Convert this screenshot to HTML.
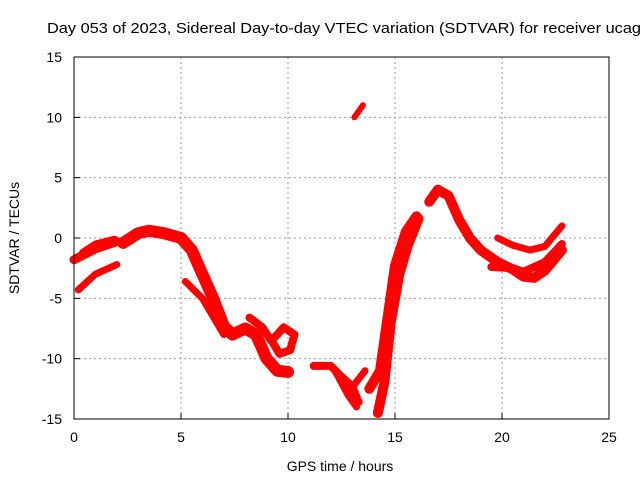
<!DOCTYPE html>
<html><head><meta charset="utf-8"><style>
body{margin:0;background:#fff;}
svg text{font-family:"Liberation Sans",sans-serif;font-size:14px;fill:#000;}
</style></head><body>
<svg id="chart" width="640" height="480">
<text x="47" y="33" textLength="594" lengthAdjust="spacingAndGlyphs" style="font-size:15px">Day 053 of 2023, Sidereal Day-to-day VTEC variation (SDTVAR) for receiver ucag</text>
<text x="340" y="471" text-anchor="middle">GPS time / hours</text>
<text transform="translate(19,238) rotate(-90)" text-anchor="middle">SDTVAR / TECUs</text>
<g id="grid"></g><g id="marks"></g><g id="axes"></g>
</svg>
<script>
const xTicks=[0,5,10,15,20,25];
const yTicks=[-15,-10,-5,0,5,10,15];
const trackA=[[0,-1.8],[1,-0.9],[2,-0.3]];
const trackA2=[[2.3,-0.4],[3,0.4],[3.5,0.6],[4.2,0.4],[5,0],[5.5,-1],[6,-3],[6.5,-5],[7,-7.3],[7.4,-8],[8,-7.5],[8.5,-8],[9,-10],[9.5,-11],[10,-11.1]];
const trackB=[[0.2,-4.3],[1,-3],[2,-2.2]];
const trackC=[[0.4,-1.2],[1,-0.5],[1.9,-0.1]];
const trackD=[[5.2,-3.6],[6,-5],[6.5,-6.5],[7,-8]];
const trackE=[[8.2,-6.6],[8.8,-7.4],[9.2,-8.5],[9.5,-8],[9.8,-7.4],[10.3,-8],[10.1,-9.3],[9.6,-9.6],[9.3,-8.7]];
const trackF=[[11.2,-10.6],[12,-10.6],[12.5,-11.5],[13,-12.3],[13.3,-13.6]];
const trackF2=[[12.2,-11],[12.8,-13],[13.2,-14]];
const trackF3=[[12.9,-12.6],[13.6,-11]];
const trackG=[[14.2,-14.5],[14.5,-12],[14.8,-7],[15.2,-3],[15.6,-0.6],[16.1,1.6]];
const trackG2=[[13.8,-12.5],[14.3,-11],[14.7,-6],[15,-2.3],[15.5,0.5],[16,1.8]];
const trackH=[[16.6,3],[17,4],[17.5,3.5],[18,1.5],[18.5,0],[19,-1],[19.8,-2],[20.5,-2.6],[21,-3.2],[21.5,-3.3],[22,-2.7],[22.8,-1]];
const trackI=[[19.8,0],[20.5,-0.6],[21.3,-1],[22,-0.7],[22.8,1]];
const trackJ=[[19.5,-2.4],[20.5,-2.5],[21,-2.8],[22,-2],[22.8,-0.5]];
const trackK=[[13.1,10],[13.5,11]];
const tracks=[[trackA,9],[trackA2,12],[trackB,7],[trackC,7],[trackD,7],[trackE,8],[trackF,8],[trackF2,7],[trackF3,7],[trackG,10],[trackG2,10],[trackH,10],[trackI,7],[trackJ,8],[trackK,6]];
const L=74,R=609,T=57,B=419;
const xs=v=>L+(v-0)/25*(R-L);
const ys=v=>B-(v+15)/30*(B-T);
const NS="http://www.w3.org/2000/svg";
const grid=document.getElementById('grid'),marks=document.getElementById('marks'),axes=document.getElementById('axes');
function mk(tag,attrs,parent){const e=document.createElementNS(NS,tag);for(const k in attrs)e.setAttribute(k,attrs[k]);parent.appendChild(e);return e;}
xTicks.forEach(t=>{
 if(t>0&&t<25){const g=mk('line',{x1:xs(t),x2:xs(t),y1:T,y2:B,stroke:'#999','stroke-dasharray':'2,3'},grid);
 
 }
 const tk=mk('line',{x1:xs(t),x2:xs(t),y1:B,y2:B-6,stroke:'#000'},axes);
 
 
 const lb=mk('text',{x:xs(t),y:B+23,'text-anchor':'middle'},axes);lb.textContent=t;
 
 
});
yTicks.forEach(t=>{
 if(t>-15&&t<15){const g=mk('line',{x1:L,x2:R,y1:ys(t),y2:ys(t),stroke:'#999','stroke-dasharray':'2,3'},grid);
 
 }
 const tk=mk('line',{x1:L,x2:L+6,y1:ys(t),y2:ys(t),stroke:'#000'},axes);
 
 
 const lb=mk('text',{x:L-12,y:ys(t)+5,'text-anchor':'end'},axes);lb.textContent=t;
 
 
});
const fr=mk('rect',{x:L,y:T,width:R-L,height:B-T,fill:'none',stroke:'#000'},axes);


tracks.forEach(([pts,w])=>{
 const p=mk('polyline',{points:pts.map(d=>xs(d[0])+','+ys(d[1])).join(' '),fill:'none',stroke:'#f00','stroke-width':w,'stroke-linejoin':'round','stroke-linecap':'round'},marks);
 
 
});
</script>
</body></html>
